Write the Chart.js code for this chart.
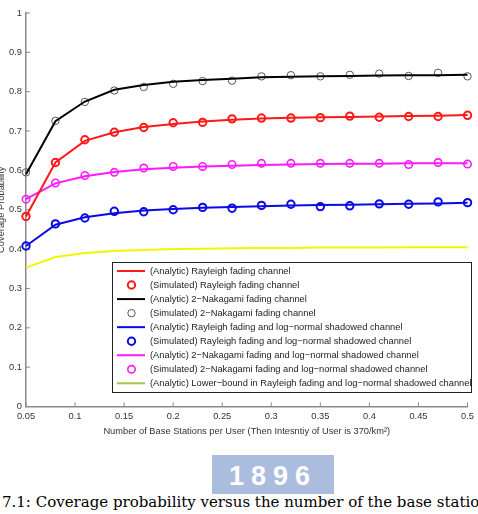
<!DOCTYPE html>
<html>
<head>
<meta charset="utf-8">
<script src="https://cdn.jsdelivr.net/npm/chart.js@4.4.0/dist/chart.umd.min.js"></script>
<style>
  body { margin: 0; background: #fff; width: 478px; height: 514px; overflow: hidden; position: relative; }
  #wrap { position: absolute; left: 0; top: 0; width: 478px; height: 445px; }
  .mark { position: absolute; left: 212px; top: 455px; width: 122px; height: 39px; background: #aabddf; }
  .mark span { position: absolute; left: 17px; top: 8px; font: bold 27px "Liberation Sans", Arial, sans-serif; color: #fff; letter-spacing: 7px; line-height: 27px; }
  .caption { position: absolute; left: 2px; top: 493px; font: 15px "DejaVu Serif", serif; color: #000; white-space: nowrap; }
</style>
</head>
<body>
<div class="mark"><span>1896</span></div>
<div class="caption">7.1: Coverage probability versus the number of the base stations</div>
<div id="wrap"><canvas id="chart"></canvas></div>
<script>
// x positions of the computed points
const xValues = [0.05, 0.08, 0.11, 0.14, 0.17, 0.2, 0.23, 0.26, 0.29, 0.32, 0.35, 0.38, 0.41, 0.44, 0.47, 0.5];

const rayAnalytic = [0.483, 0.62, 0.675, 0.697, 0.71, 0.718, 0.724, 0.729, 0.732, 0.734, 0.735, 0.736, 0.737, 0.738, 0.739, 0.741];
const raySim = [0.483, 0.62, 0.678, 0.697, 0.709, 0.721, 0.722, 0.731, 0.733, 0.733, 0.734, 0.738, 0.735, 0.737, 0.737, 0.74];
const nakAnalytic = [0.59, 0.725, 0.775, 0.805, 0.817, 0.825, 0.83, 0.833, 0.837, 0.838, 0.839, 0.84, 0.841, 0.842, 0.842, 0.843];
const nakSim = [0.595, 0.726, 0.774, 0.803, 0.812, 0.82, 0.827, 0.828, 0.839, 0.842, 0.839, 0.843, 0.846, 0.84, 0.848, 0.839];
const rayShadAnalytic = [0.408, 0.462, 0.481, 0.491, 0.498, 0.502, 0.505, 0.507, 0.509, 0.511, 0.512, 0.513, 0.514, 0.515, 0.516, 0.518];
const rayShadSim = [0.408, 0.464, 0.479, 0.496, 0.495, 0.5, 0.506, 0.504, 0.511, 0.514, 0.508, 0.51, 0.515, 0.514, 0.52, 0.518];
const nakShadAnalytic = [0.527, 0.567, 0.585, 0.596, 0.603, 0.607, 0.61, 0.612, 0.614, 0.615, 0.616, 0.617, 0.617, 0.618, 0.618, 0.618];
const nakShadSim = [0.527, 0.568, 0.587, 0.595, 0.606, 0.61, 0.61, 0.615, 0.618, 0.618, 0.618, 0.618, 0.618, 0.615, 0.62, 0.616];
const lowerBound = [0.353, 0.38, 0.39, 0.395, 0.398, 0.4, 0.401, 0.402, 0.403, 0.403, 0.404, 0.404, 0.404, 0.405, 0.405, 0.405];

const xTicks = [0.05, 0.1, 0.15, 0.2, 0.25, 0.3, 0.35, 0.4, 0.45, 0.5];
const xTickLabels = ["0.05", "0.1", "0.15", "0.2", "0.25", "0.3", "0.35", "0.4", "0.45", "0.5"];
const yTicks = [0, 0.1, 0.2, 0.3, 0.4, 0.5, 0.6, 0.7, 0.8, 0.9, 1];
const yTickLabels = ["0", "0.1", "0.2", "0.3", "0.4", "0.5", "0.6", "0.7", "0.8", "0.9", "1"];

const axisColor = "#8a8a8a";
const textColor = "#333";
const FONT = '"Liberation Sans", Arial, sans-serif';
const FSIZE = 9.3;

const pts = (ys) => xValues.map((x, i) => ({ x: x, y: ys[i] }));

function line(label, ys, color) {
  return { label, data: pts(ys), borderColor: color, backgroundColor: color,
    borderWidth: 2, pointRadius: 0, showLine: true, tension: 0, clip: false };
}
function marks(label, ys, color, width) {
  return { label, data: pts(ys), borderColor: color, backgroundColor: "transparent",
    showLine: false, pointRadius: 3.7, pointBorderWidth: width, pointBorderColor: color,
    pointBackgroundColor: "transparent", clip: false };
}

const datasets = [
  line("(Analytic) Rayleigh fading channel", rayAnalytic, "#ff1a1a"),
  marks("(Simulated) Rayleigh fading channel", raySim, "#ff1a1a", 2),
  line("(Analytic) 2\u2212Nakagami fading channel", nakAnalytic, "#000"),
  marks("(Simulated) 2\u2212Nakagami fading channel", nakSim, "#555", 1),
  line("(Analytic) Rayleigh fading and log\u2212normal shadowed channel", rayShadAnalytic, "#0a0ae6"),
  marks("(Simulated) Rayleigh fading and log\u2212normal shadowed channel", rayShadSim, "#0a0ae6", 2),
  line("(Analytic) 2\u2212Nakagami fading and log\u2212normal shadowed channel", nakShadAnalytic, "#ff1aff"),
  marks("(Simulated) 2\u2212Nakagami fading and log\u2212normal shadowed channel", nakShadSim, "#ff1aff", 1.6),
  line("(Analytic) Lower\u2212bound in Rayleigh fading and log\u2212normal shadowed channel", lowerBound, "#f5f500"),
];
// the legend sample of the lower bound looks olive in the scan
const legendColorFix = { 8: "#a6c04a" };

/* inward tick marks, matlab style */
const innerTicks = {
  id: "innerTicks",
  beforeDatasetsDraw(chart) {
    const { ctx, chartArea: a, scales: { x, y } } = chart;
    ctx.save();
    ctx.strokeStyle = axisColor;
    ctx.lineWidth = 1;
    x.ticks.forEach((t) => {
      const px = x.getPixelForValue(t.value);
      ctx.beginPath(); ctx.moveTo(px, a.bottom); ctx.lineTo(px, a.bottom - 4); ctx.stroke();
    });
    y.ticks.forEach((t) => {
      const py = y.getPixelForValue(t.value);
      ctx.beginPath(); ctx.moveTo(a.left, py); ctx.lineTo(a.left + 4, py); ctx.stroke();
    });
    ctx.restore();
  },
};

/* boxed legend inside the plot */
const legendBox = {
  id: "legendBox",
  afterDatasetsDraw(chart) {
    const ctx = chart.ctx;
    const left = 112, top = 262, right = 471, bottom = 392;
    ctx.save();
    ctx.fillStyle = "#fff";
    ctx.fillRect(left, top, right - left, bottom - top);
    ctx.strokeStyle = "#222";
    ctx.lineWidth = 1;
    ctx.strokeRect(left + 0.5, top + 0.5, right - left, bottom - top);
    ctx.font = FSIZE + "px " + FONT;
    ctx.textBaseline = "middle";
    chart.data.datasets.forEach((ds, i) => {
      const yy = 271 + i * 14.04;
      const col = legendColorFix[i] || ds.borderColor;
      ctx.strokeStyle = col;
      if (ds.showLine) {
        ctx.lineWidth = ds.borderWidth;
        ctx.beginPath(); ctx.moveTo(117, yy); ctx.lineTo(145, yy); ctx.stroke();
      } else {
        ctx.lineWidth = ds.pointBorderWidth;
        ctx.beginPath(); ctx.arc(131.5, yy, ds.pointRadius, 0, Math.PI * 2); ctx.stroke();
      }
      ctx.fillStyle = "#222";
      ctx.fillText(ds.label, 150, yy + 0.5);
    });
    ctx.restore();
  },
};

new Chart(document.getElementById("chart"), {
  type: "scatter",
  data: { datasets },
  options: {
    responsive: true,
    maintainAspectRatio: false,
    devicePixelRatio: 1,
    animation: false,
    layout: { padding: { left: 0, top: 13, right: 9, bottom: 0 } },
    plugins: { legend: { display: false }, tooltip: { enabled: false } },
    scales: {
      x: {
        type: "linear",
        min: 0.05,
        max: 0.5,
        afterBuildTicks: (s) => { s.ticks = xTicks.map((v) => ({ value: v })); },
        afterFit: (s) => { s.height = 38.5; },
        ticks: { padding: 4, color: textColor, font: { family: FONT, size: FSIZE },
          maxRotation: 0, callback: (v, i) => xTickLabels[i] },
        grid: { display: false, drawTicks: false },
        border: { display: true, color: axisColor, width: 1.5 },
        title: { display: true, text: "Number of Base Stations per User (Then Intesntiy of User is 370/km\u00b2)",
          color: textColor, font: { family: FONT, size: FSIZE }, padding: { top: 0, bottom: 8 } },
      },
      y: {
        min: 0,
        max: 1,
        afterBuildTicks: (s) => { s.ticks = yTicks.map((v) => ({ value: v })); },
        afterFit: (s) => { s.width = 26; },
        ticks: { padding: 4, color: textColor, font: { family: FONT, size: FSIZE },
          callback: (v, i) => yTickLabels[i] },
        grid: { display: false, drawTicks: false },
        border: { display: true, color: axisColor, width: 1.5 },
        title: { display: true, text: "Coverage Probability", color: textColor,
          font: { family: FONT, size: FSIZE }, padding: { top: -4, bottom: 0 } },
      },
    },
  },
  plugins: [innerTicks, legendBox],
});
</script>
</body>
</html>
